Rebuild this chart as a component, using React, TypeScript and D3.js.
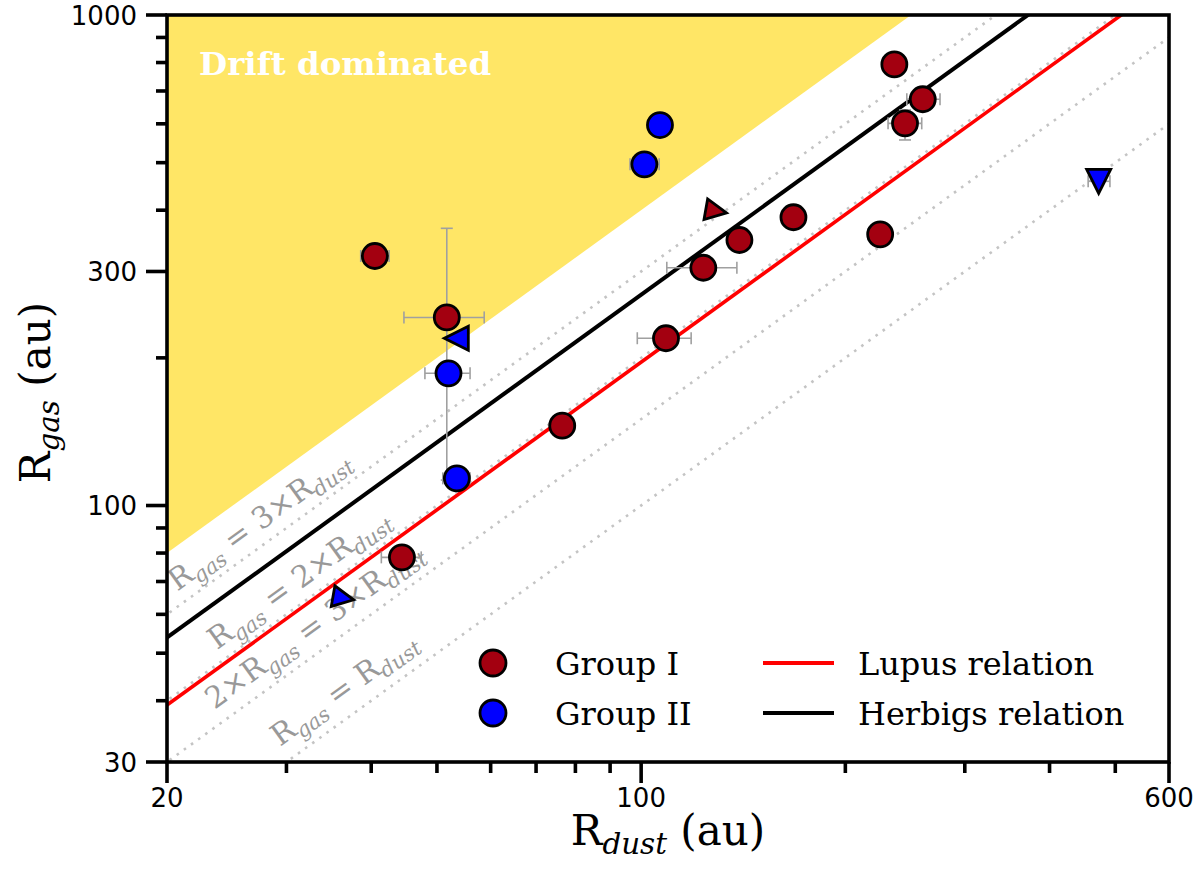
import React from 'react';
import * as d3 from 'd3';

// ---------- data ----------
const groupIX = [40.5, 51.7, 44.4, 76.5, 108.8, 123.5, 139.6, 167.7, 225.1, 236.2, 260.1, 244.9];
const groupIY = [322.6, 241.8, 78.4, 145.5, 219.3, 305.3, 347.8, 387.0, 357.1, 793, 673.3, 601.3];
const groupIXlo = [38.6, 44.7, 41.4, null, 98.7, 109.1, null, null, 216, null, 246.4, 231.2];
const groupIXhi = [42.5, 58.7, 47.4, null, 118.5, 138.4, null, null, 234, null, 275.8, 259.2];
const groupIYlo = [null, 112.7, null, null, null, null, null, null, null, null, null, 556.2];
const groupIYhi = [null, 367.4, null, null, null, null, null, null, null, null, null, 640.2];

const groupIIX = [106.6, 101.1, 52.0, 53.5];
const groupIIY = [596.6, 496.1, 186.0, 113.6];
const groupIIXlo = [null, 96.3, 48.0, 51.0];
const groupIIXhi = [null, 106.3, 55.95, 55.95];

// limits (triangles): marker kind, x, y, colour group
const limitKind = ['rot', 'left', 'rot', 'down'];
const limitGroup = ['I', 'II', 'II', 'II'];
const limitX = [129.0, 53.4, 36.4, 472.6];
const limitY = [398.3, 219.3, 64.8, 458.1];
const limitXlo = [null, null, null, 456];
const limitXhi = [null, null, null, 491];

// relations: Rgas = ratio * Rdust
const dottedRatios = [1, 1.5, 2, 3];
const lupusRatio = 1.96;
const herbigRatio = 2.69;
const driftRatio = 4;

// line labels: start position in data coords
const labelPre = ['', '', '2×', ''];
const labelMid = [' = 3×', ' = 2×', ' = 3×', ' = '];
const labelX = [20.7, 23.7, 23.5, 29.35];
const labelY = [66.7, 50.7, 38.3, 32.2];

const xDomain = [20, 600];
const yDomain = [30, 1000];
const xMajor = [20, 100, 600];
const xMinor = [30, 40, 50, 60, 70, 80, 90, 200, 300, 400, 500];
const yMajor = [30, 100, 300, 1000];
const yMinor = [40, 50, 60, 70, 80, 90, 200, 400, 500, 600, 700, 800, 900];

const legendLabels = ['Group I', 'Group II', 'Lupus relation', 'Herbigs relation'];

// ---------- layout ----------
const W = 1200;
const H = 877;
const L = 167, R = 1169, T = 15, B = 762;
const RED = '#a30010';
const BLUE = '#0000ff';
const SERIF = '"DejaVu Serif", serif';
const SANS = '"DejaVu Sans", sans-serif';

export default function App() {
  const x = d3.scaleLog().domain(xDomain).range([L, R]);
  const y = d3.scaleLog().domain(yDomain).range([B, T]);
  const angle = (Math.atan((B - T) / Math.log10(yDomain[1] / yDomain[0]) / ((R - L) / Math.log10(xDomain[1] / xDomain[0]))) * 180) / Math.PI;

  const line = d3
    .line<[number, number]>()
    .x((d) => x(d[0]))
    .y((d) => y(d[1]));
  const relPts = (r: number): [number, number][] => [
    [xDomain[0] / 2, (xDomain[0] / 2) * r],
    [xDomain[1] * 2, xDomain[1] * 2 * r],
  ];

  const driftPoly: [number, number][] = [
    [xDomain[0], xDomain[0] * driftRatio],
    [yDomain[1] / driftRatio, yDomain[1]],
    [xDomain[0], yDomain[1]],
  ];

  const errColor = '#a0a0a0';
  const cap = 6;
  const errBars = (xs: number[], ys: number[], xlo: (number | null)[], xhi: (number | null)[], ylo: (number | null)[] | null, yhi: (number | null)[] | null, key: string) => {
    const out: React.ReactNode[] = [];
    xs.forEach((xv, i) => {
      const cx = x(xv), cy = y(ys[i]);
      const a = xlo[i], b = xhi[i];
      if (a != null && b != null) {
        out.push(
          <g key={`${key}x${i}`} stroke={errColor} strokeWidth={1.6}>
            <line x1={x(a)} x2={x(b)} y1={cy} y2={cy} />
            <line x1={x(a)} x2={x(a)} y1={cy - cap} y2={cy + cap} />
            <line x1={x(b)} x2={x(b)} y1={cy - cap} y2={cy + cap} />
          </g>
        );
      }
      if (ylo && yhi) {
        const c = ylo[i], d = yhi[i];
        if (c != null && d != null) {
          out.push(
            <g key={`${key}y${i}`} stroke={errColor} strokeWidth={1.6}>
              <line x1={cx} x2={cx} y1={y(c)} y2={y(d)} />
              <line x1={cx - cap} x2={cx + cap} y1={y(c)} y2={y(c)} />
              <line x1={cx - cap} x2={cx + cap} y1={y(d)} y2={y(d)} />
            </g>
          );
        }
      }
    });
    return out;
  };

  const tri = (kind: string) => {
    const s = 12;
    if (kind === 'left') return `M${-s},0L${s},${-s}L${s},${s}Z`;
    if (kind === 'down') return `M0,${s}L${-s},${-s}L${s},${-s}Z`;
    const r = 10.5;
    return `M${r},0L${-r},${-r}L${-r},${r}Z`;
  };

  const sub = (t: string, fs: number) => (
    <tspan fontStyle="italic" fontSize={fs * 0.7} dy={fs * 0.22}>
      {t}
    </tspan>
  );

  const labelFs = 30;
  const axFs = 42;

  return (
    <svg width={W} height={H} style={{ position: 'absolute', left: 0, top: 0, background: '#fff' }}>
      <defs>
        <clipPath id="plot">
          <rect x={L} y={T} width={R - L} height={B - T} />
        </clipPath>
      </defs>
      <rect x={0} y={0} width={W} height={H} fill="#fff" />
      <g clipPath="url(#plot)">
        <path d={line(driftPoly) + 'Z'} fill="#ffe666" />
        {dottedRatios.map((r) => (
          <path key={r} d={line(relPts(r)) || ''} stroke="#c4c4c4" strokeWidth={2.6} strokeDasharray="2.6 6.2" fill="none" />
        ))}
      </g>
      {labelX.map((lx, i) => (
        <text
          key={i}
          transform={`translate(${x(lx)},${y(labelY[i])}) rotate(${-angle})`}
          fontFamily={SERIF}
          fontSize={labelFs}
          fill="#999999"
          style={{ whiteSpace: 'pre' }}
        >
          {labelPre[i]}R{sub('gas', labelFs)}
          <tspan dy={-labelFs * 0.22}>{labelMid[i]}R</tspan>
          {sub('dust', labelFs)}
        </text>
      ))}
      <g clipPath="url(#plot)">
        <path d={line(relPts(lupusRatio)) || ''} stroke="#ff0000" strokeWidth={3.6} fill="none" />
        <path d={line(relPts(herbigRatio)) || ''} stroke="#000" strokeWidth={4} fill="none" />
      </g>
      <text x={199} y={75} fontFamily={SERIF} fontWeight="bold" fontSize={32.5} fill="#fff">
        Drift dominated
      </text>

      {errBars(groupIX, groupIY, groupIXlo, groupIXhi, groupIYlo, groupIYhi, 'gI')}
      {errBars(groupIIX, groupIIY, groupIIXlo, groupIIXhi, null, null, 'gII')}
      {errBars(limitX, limitY, limitXlo, limitXhi, null, null, 'lim')}

      {groupIX.map((xv, i) => (
        <circle key={`c1${i}`} cx={x(xv)} cy={y(groupIY[i])} r={12.5} fill={RED} stroke="#000" strokeWidth={2.8} />
      ))}
      {groupIIX.map((xv, i) => (
        <circle key={`c2${i}`} cx={x(xv)} cy={y(groupIIY[i])} r={12.5} fill={BLUE} stroke="#000" strokeWidth={2.8} />
      ))}
      {limitX.map((xv, i) => (
        <path
          key={`t${i}`}
          d={tri(limitKind[i])}
          transform={`translate(${x(xv)},${y(limitY[i])})${limitKind[i] === 'rot' ? ' rotate(10)' : ''}`}
          fill={limitGroup[i] === 'I' ? RED : BLUE}
          stroke="#000"
          strokeWidth={2.8}
          strokeLinejoin="miter"
        />
      ))}

      {/* spines */}
      <rect x={L} y={T} width={R - L} height={B - T} fill="none" stroke="#000" strokeWidth={3.6} />

      {/* ticks */}
      <g stroke="#000" strokeWidth={3.6}>
        {xMajor.map((v) => (
          <line key={`xM${v}`} x1={x(v)} x2={x(v)} y1={B} y2={B + 21} />
        ))}
        {xMinor.map((v) => (
          <line key={`xm${v}`} x1={x(v)} x2={x(v)} y1={B} y2={B + 11} />
        ))}
        {yMajor.map((v) => (
          <line key={`yM${v}`} x1={L} x2={L - 21} y1={y(v)} y2={y(v)} />
        ))}
        {yMinor.map((v) => (
          <line key={`ym${v}`} x1={L} x2={L - 11} y1={y(v)} y2={y(v)} />
        ))}
      </g>
      <g fontFamily={SANS} fontSize={26} fill="#000">
        {xMajor.map((v) => (
          <text key={`xl${v}`} x={x(v)} y={B + 45} textAnchor="middle">
            {v}
          </text>
        ))}
        {yMajor.map((v) => (
          <text key={`yl${v}`} x={L - 30} y={y(v) + 9.5} textAnchor="end">
            {v}
          </text>
        ))}
      </g>

      {/* axis labels */}
      <text x={(L + R) / 2} y={845} textAnchor="middle" fontFamily={SERIF} fontSize={axFs} style={{ whiteSpace: 'pre' }}>
        R{sub('dust', axFs)}
        <tspan dy={-axFs * 0.22}> (au)</tspan>
      </text>
      <text
        transform={`translate(50,${(T + B) / 2 + 4}) rotate(-90)`}
        textAnchor="middle"
        fontFamily={SERIF}
        fontSize={axFs}
        style={{ whiteSpace: 'pre' }}
      >
        R{sub('gas', axFs)}
        <tspan dy={-axFs * 0.22}> (au)</tspan>
      </text>

      {/* legend */}
      <g fontFamily={SERIF} fontSize={32} fill="#000">
        <circle cx={493} cy={663} r={13} fill={RED} stroke="#000" strokeWidth={2.8} />
        <circle cx={493} cy={713} r={13} fill={BLUE} stroke="#000" strokeWidth={2.8} />
        <text x={555} y={675}>{legendLabels[0]}</text>
        <text x={555} y={725}>{legendLabels[1]}</text>
        <line x1={763} x2={834} y1={663} y2={663} stroke="#ff0000" strokeWidth={4} />
        <line x1={763} x2={834} y1={713} y2={713} stroke="#000" strokeWidth={4} />
        <text x={858} y={675}>{legendLabels[2]}</text>
        <text x={858} y={725}>{legendLabels[3]}</text>
      </g>
    </svg>
  );
}
